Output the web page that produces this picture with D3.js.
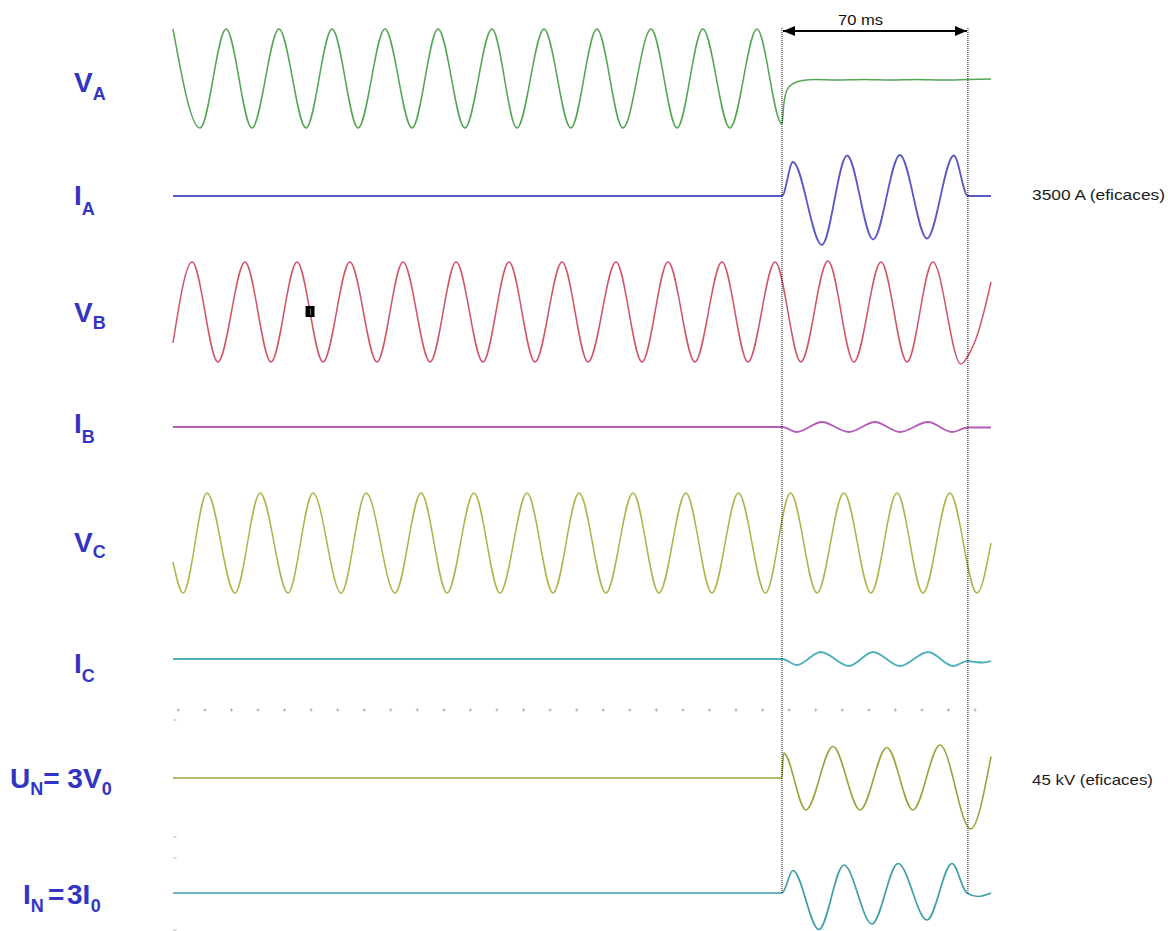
<!DOCTYPE html>
<html>
<head>
<meta charset="utf-8">
<script src="https://cdn.jsdelivr.net/npm/d3@7"></script>
<style>
  html, body { margin: 0; padding: 0; background: #fff; }
  svg { display: block; }
</style>
</head>
<body>
<svg id="chart" width="1168" height="931"></svg>
<script>
// ---------------- DATA (time in ms, values in per-unit of each trace) ----------------
const faultTime = 229.3;   // fault inception
const tripTime = 299.3;    // fault cleared (70 ms later)
const durationLabel = "70 ms";

const channelNames = ["VA", "IA", "VB", "IB", "VC", "IC", "UN", "IN"];

const vaPts = [[0,1.0],[10.2,-0.98],[20.0,1.0],[29.7,-0.98],[39.9,1.0],[50.1,-0.98],[59.9,1.0],[69.7,-0.98],
  [79.8,1.0],[90.0,-0.98],[99.8,1.0],[109.9,-0.98],[120.1,1.0],[129.5,-0.98],[139.7,1.0],[149.8,-0.98],
  [159.6,1.0],[169.4,-0.98],[180.0,1.0],[189.8,-0.98],[199.5,1.0],[209.7,-0.98],[219.9,1.0],[229.3,-0.9],
  [230.0,-0.5],[231.2,-0.22],[233.5,-0.09],[237,-0.03],[242,-0.01],[250,-0.02],[260,-0.01],[270,-0.02],
  [280,-0.01],[290,-0.02],[299.3,-0.01],[308,0.0]];

const iaPts = [[0,0],[229.3,0],[233.4,0.68],[244.3,-0.98],[253.8,0.81],[263.6,-0.87],[273.7,0.82],
  [283.9,-0.85],[294.0,0.81],[299.3,0],[308,0]];

const vbPts = [[0,-0.62],[7.2,1.0],[16.9,-1.0],[27.1,1.0],[36.9,-1.0],[46.7,1.0],[56.5,-1.0],[66.6,1.0],
  [76.8,-1.0],[86.6,1.0],[96.8,-1.0],[106.6,1.0],[116.7,-1.0],[126.5,1.0],[136.3,-1.0],[146.5,1.0],
  [156.3,-1.0],[166.8,1.0],[176.6,-1.0],[186.4,1.0],[196.5,-1.0],[206.7,1.0],[216.5,-1.0],[226.7,1.0],
  [236.4,-1.0],[246.6,1.02],[256.4,-1.0],[266.6,1.0],[276.4,-1.0],[286.1,1.0],[296.7,-1.04],[299.3,-0.88],
  [303.1,-0.42],[305.7,0.08],[308,0.6]];

const ibPts = [[0,0],[229.3,0],[234.9,-0.1],[244.3,0.1],[254.5,-0.1],[264.3,0.1],[273.7,-0.1],
  [284.3,0.1],[293.3,-0.1],[299.3,-0.01],[308,-0.01]];

const vcPts = [[0,-0.38],[3.8,-1.0],[12.8,1.0],[23.3,-1.0],[32.8,1.0],[43.3,-1.0],[52.7,1.0],[63.3,-1.0],
  [72.7,1.0],[83.6,-1.0],[93.4,1.0],[103.2,-1.0],[113.3,1.0],[123.1,-1.0],[133.3,1.0],[143.1,-1.0],
  [152.9,1.0],[163.0,-1.0],[173.2,1.0],[183.0,-1.0],[193.1,1.0],[202.9,-1.0],[212.9,1.0],[223.1,-1.0],
  [232.5,1.0],[242.5,-1.0],[252.6,1.0],[262.8,-1.0],[272.6,1.0],[282.4,-1.0],[292.5,1.0],[302.7,-1.0],
  [308,0.0]];

const icPts = [[0,0],[229.3,0],[234.9,-0.12],[243.9,0.14],[254.5,-0.14],[263.6,0.14],[273.7,-0.14],
  [284.3,0.14],[293.7,-0.14],[299.3,-0.04],[302,-0.06],[305,-0.07],[308,-0.04]];

const unPts = [[0,0],[229.2,0],[229.9,0.5],[238.3,-0.64],[248.5,0.63],[258.7,-0.64],[268.8,0.61],
  [278.6,-0.64],[288.8,0.66],[300.3,-1.02],[308,0.43]];

const inPts = [[0,0],[229.3,0],[233.4,0.45],[243.2,-0.73],[252.6,0.56],[263.2,-0.62],[273.0,0.59],
  [283.9,-0.54],[293.3,0.59],[298.9,0],[303.1,-0.07],[308,0]];

const cursorMark = [51.6, 0];            // cursor on the VB trace (t, value)
const gridTimes = [2,12,22,32,42,52,62,72,82,92,102,112,122,132,142,152,162,172,182,192,
  202,212,222,232,242,252,262,272,282,292,302];

const rightNotes = ["3500 A (eficaces)", "45 kV (eficaces)"];

// ---------------- LAYOUT / STYLE ----------------
const svg = d3.select("#chart");
const x = d3.scaleLinear().domain([0, 308]).range([173, 991]);

const centers = [79, 196, 312, 427, 543, 659, 778, 893];
const halfHeight = 50;
const colors = ["#55a555", "#5858c8", "#d05566", "#b35cb8", "#b2b24a", "#4fb0bd", "#9ea23a", "#3f9ea6"];
const widths = [1.5, 1.8, 1.5, 1.8, 1.5, 1.8, 1.6, 1.7];
const series = [vaPts, iaPts, vbPts, ibPts, vcPts, icPts, unPts, inPts];

const yScales = centers.map(c => d3.scaleLinear().domain([-1, 1]).range([c + halfHeight, c - halfHeight]));

// grid dots
const gridG = svg.append("g").attr("stroke", "#9a9a9a").attr("stroke-width", 0.8);
gridTimes.forEach(t => {
  const gx = x(t), gy = 710;
  gridG.append("line").attr("x1", gx - 1.5).attr("x2", gx + 1.5).attr("y1", gy).attr("y2", gy);
  gridG.append("line").attr("x1", gx).attr("x2", gx).attr("y1", gy - 1.5).attr("y2", gy + 1.5);
});
[720, 837, 858, 930].forEach(gy => {
  gridG.append("line").attr("x1", 173.5).attr("x2", 176.5).attr("y1", gy).attr("y2", gy);
});

// traces
series.forEach((pts, i) => {
  const line = d3.line()
    .x(d => x(d[0]))
    .y(d => yScales[i](d[1]))
    .curve(d3.curveMonotoneX);
  svg.append("path")
    .datum(pts)
    .attr("d", line)
    .attr("fill", "none")
    .attr("stroke", colors[i])
    .attr("stroke-width", widths[i])
    .attr("stroke-linejoin", "round");
});

// dotted vertical lines at fault and trip
[faultTime, tripTime].forEach(t => {
  svg.append("line")
    .attr("x1", x(t)).attr("x2", x(t))
    .attr("y1", 28).attr("y2", 893)
    .attr("stroke", "#111").attr("stroke-width", 1)
    .attr("stroke-dasharray", "1,1");
});

// duration arrow
const defs = svg.append("defs");
["start", "end"].forEach(k => {
  defs.append("marker")
    .attr("id", "arr-" + k)
    .attr("viewBox", "0 0 12 10")
    .attr("refX", k === "end" ? 12 : 0).attr("refY", 5)
    .attr("markerWidth", 12).attr("markerHeight", 10)
    .attr("markerUnits", "userSpaceOnUse")
    .attr("orient", "auto")
    .append("path")
    .attr("d", k === "end" ? "M0,0 L12,5 L0,10 Z" : "M12,0 L0,5 L12,10 Z")
    .attr("fill", "#000");
});
svg.append("line")
  .attr("x1", x(faultTime) + 1).attr("x2", x(tripTime) - 1)
  .attr("y1", 31).attr("y2", 31)
  .attr("stroke", "#000").attr("stroke-width", 2)
  .attr("marker-start", "url(#arr-start)")
  .attr("marker-end", "url(#arr-end)");
svg.append("text")
  .attr("x", 838).attr("y", 25)
  .attr("font-family", "'Liberation Sans', Arial, sans-serif")
  .attr("font-size", 14)
  .attr("textLength", 45).attr("lengthAdjust", "spacingAndGlyphs")
  .attr("fill", "#111")
  .text(durationLabel);

// cursor marker on VB
svg.append("rect")
  .attr("x", x(cursorMark[0]) - 4.5).attr("y", yScales[2](cursorMark[1]) - 6)
  .attr("width", 9).attr("height", 11)
  .attr("fill", "#000");
svg.append("line")
  .attr("x1", x(cursorMark[0]) + 0.5).attr("x2", x(cursorMark[0]) + 0.5)
  .attr("y1", yScales[2](cursorMark[1]) - 3).attr("y2", yScales[2](cursorMark[1]) + 3)
  .attr("stroke", "#777").attr("stroke-width", 1);

// right-side notes
const noteY = [200, 785];
const noteLen = [133, 121];
rightNotes.forEach((s, i) => {
  svg.append("text")
    .attr("x", 1032).attr("y", noteY[i])
    .attr("font-family", "'Liberation Sans', Arial, sans-serif")
    .attr("font-size", 15)
    .attr("textLength", noteLen[i]).attr("lengthAdjust", "spacingAndGlyphs")
    .attr("fill", "#1a1a1a")
    .text(s);
});

// channel labels
const labelMain = ["V", "I", "V", "I", "V", "I"];
const labelSub = ["A", "A", "B", "B", "C", "C"];
const labelBase = [92, 205, 322, 433, 552, 673];
const subDy = [8, 10, 7, 10, 6, 9];
const labelColor = "#3434c4";
const lf = "'Liberation Sans', Arial, sans-serif";

labelMain.forEach((m, i) => {
  const t = svg.append("text")
    .attr("x", 74).attr("y", labelBase[i])
    .attr("font-family", lf).attr("font-weight", "bold")
    .attr("fill", labelColor);
  t.append("tspan").attr("font-size", 28).text(m);
  t.append("tspan").attr("font-size", 18).attr("dy", subDy[i]).text(labelSub[i]);
});

// U_N= 3V_0
{
  const t = svg.append("text").attr("x", 10).attr("y", 788)
    .attr("font-family", lf).attr("font-weight", "bold").attr("fill", labelColor)
    .attr("xml:space", "preserve");
  t.append("tspan").attr("font-size", 28).text("U");
  t.append("tspan").attr("font-size", 18).attr("dy", 7).text("N");
  t.append("tspan").attr("font-size", 28).attr("dy", -7).text("= 3V");
  t.append("tspan").attr("font-size", 18).attr("dy", 7).text("0");
}
// I_N = 3I_0
{
  const t = svg.append("text").attr("y", 904)
    .attr("font-family", lf).attr("font-weight", "bold").attr("fill", labelColor);
  t.append("tspan").attr("x", 23).attr("font-size", 28).text("I");
  t.append("tspan").attr("font-size", 18).attr("dy", 8).text("N");
  t.append("tspan").attr("x", 48).attr("font-size", 28).attr("dy", -8).text("=");
  t.append("tspan").attr("x", 67).attr("font-size", 28).text("3I");
  t.append("tspan").attr("font-size", 18).attr("dy", 8).attr("dx", 0.5).text("0");
}
</script>
</body>
</html>
